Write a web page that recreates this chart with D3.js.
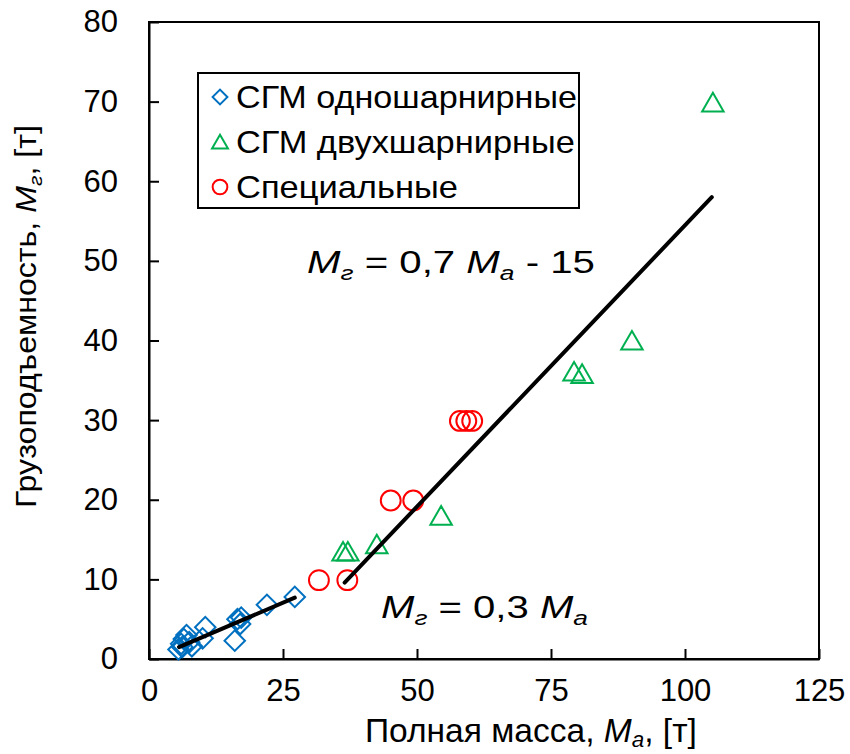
<!DOCTYPE html>
<html>
<head>
<meta charset="utf-8">
<script src="https://cdn.jsdelivr.net/npm/d3@7"></script>
<style>
  body { margin: 0; background: #fff; }
  svg text { font-family: "Liberation Sans", Arial, sans-serif; fill: #000; }
</style>
</head>
<body>
<div id="chart"></div>
<script>
// ---------- Data ----------
const singleHinge = [ // СГМ одношарнирные
  [5.5, 1.2], [6, 1.9], [6.5, 2.5], [7, 3], [7.5, 2.1], [8, 1.6], [6.2, 1.5],
  [10, 2.6], [10.5, 4], [16, 2.3], [16.5, 5], [17, 4.4], [17.2, 5.2],
  [22, 6.8], [27.2, 7.8]
];
const doubleHinge = [ // СГМ двухшарнирные
  [36.2, 13.4], [37.1, 13.4], [42.5, 14.3], [54.5, 17.9],
  [79.3, 36], [80.8, 35.7], [90.1, 39.9], [105.2, 69.8]
];
const special = [ // Специальные
  [31.7, 9.9], [37, 9.9], [45.1, 19.9], [49.3, 19.9],
  [58, 29.9], [59.2, 29.9], [60.3, 29.9]
];
const fitSmall = [[5.6, 1.5], [27.2, 7.7]];
const fitLarge = [[36.5, 9.6], [105, 58]];

const xTicks = [0, 25, 50, 75, 100, 125];
const yTicks = [0, 10, 20, 30, 40, 50, 60, 70, 80];
const legendItems = [
  { name: "СГМ одношарнирные", shape: "diamond", color: "#0070C0" },
  { name: "СГМ двухшарнирные", shape: "triangle", color: "#00B050" },
  { name: "Специальные", shape: "circle", color: "#FF0000" }
];

// ---------- Layout ----------
const width = 850, height = 754;
const margin = { top: 22, right: 31, bottom: 95, left: 149 };

const svg = d3.select("#chart").append("svg")
  .attr("width", width).attr("height", height);

const x = d3.scaleLinear().domain([0, 125]).range([margin.left, width - margin.right]);
const y = d3.scaleLinear().domain([0, 80]).range([height - margin.bottom, margin.top]);

// stretch a text horizontally so it covers the same width as in the picture
function fitWidth(g, target) {
  const w = g.select("text").node().getComputedTextLength();
  g.select("text").attr("transform", `scale(${target / w},1)`);
}

// frame
svg.append("rect")
  .attr("x", x(0)).attr("y", y(80))
  .attr("width", x(125) - x(0)).attr("height", y(0) - y(80))
  .attr("fill", "none").attr("stroke", "#000").attr("stroke-width", 2);

// axes (ticks inside)
const xAxis = svg.append("g")
  .attr("transform", `translate(0,${y(0)})`)
  .call(d3.axisBottom(x).tickValues(xTicks).tickSizeInner(-10).tickSizeOuter(0).tickPadding(20));
const yAxis = svg.append("g")
  .attr("transform", `translate(${x(0)},0)`)
  .call(d3.axisLeft(y).tickValues(yTicks).tickSizeInner(-10).tickSizeOuter(0).tickPadding(31));
[xAxis, yAxis].forEach(g => {
  g.select(".domain").attr("stroke-width", 2);
  g.selectAll(".tick line").attr("stroke-width", 2);
  g.selectAll(".tick text").style("font-size", "31px").attr("font-family", "Liberation Sans, Arial, sans-serif");
});

// axis titles
const xg = svg.append("g").attr("transform", "translate(365,742)");
const xt = xg.append("text").style("font-size", "33px");
xt.append("tspan").text("Полная масса, ");
xt.append("tspan").style("font-style", "italic").text("M");
xt.append("tspan").style("font-style", "italic").style("font-size", "22px").attr("dy", 5).text("a");
xt.append("tspan").attr("dy", -5).text(", [т]");
fitWidth(xg, 332);

const yg = svg.append("g").attr("transform", "translate(36,508) rotate(-90)");
const yt = yg.append("text").style("font-size", "29px");
yt.append("tspan").text("Грузоподъемность, ");
yt.append("tspan").style("font-style", "italic").text("M");
yt.append("tspan").style("font-style", "italic").style("font-size", "19px").attr("dy", 6).text("г");
yt.append("tspan").attr("dy", -6).text(", [т]");
fitWidth(yg, 383);

// ---------- Markers ----------
const sym = {
  diamond: d3.symbol().type(d3.symbolSquare).size(210),
  triangle: d3.symbol().type(d3.symbolTriangle).size(200),
  circle: d3.symbol().type(d3.symbolCircle).size(310)
};
function drawMarkers(data, item) {
  svg.append("g").selectAll("path")
    .data(data).join("path")
      .attr("d", sym[item.shape]())
      .attr("transform", d => `translate(${x(d[0])},${y(d[1])})` + (item.shape === "diamond" ? " rotate(45)" : "") + (item.shape === "triangle" ? " translate(0,2)" : ""))
      .attr("fill", "none")
      .attr("stroke", item.color)
      .attr("stroke-width", 2);
}
drawMarkers(singleHinge, legendItems[0]);
drawMarkers(doubleHinge, legendItems[1]);
drawMarkers(special, legendItems[2]);

// trend lines
const line = d3.line().x(d => x(d[0])).y(d => y(d[1]));
[fitSmall, fitLarge].forEach(f => {
  svg.append("path").attr("d", line(f))
    .attr("fill", "none").attr("stroke", "#000")
    .attr("stroke-width", 4).attr("stroke-linecap", "round");
});

// equations
function equation(px, py, w, parts) {
  const g = svg.append("g").attr("transform", `translate(${px},${py})`);
  const t = g.append("text").style("font-size", "32px");
  parts.forEach(p => {
    const s = t.append("tspan").text(p.t);
    if (p.i) s.style("font-style", "italic");
    if (p.sub) s.style("font-size", "21px").style("font-style", "italic").attr("dy", 7);
    if (p.up) s.attr("dy", -7);
  });
  fitWidth(g, w);
}
equation(307, 273, 288, [
  { t: "M", i: 1 }, { t: "г", sub: 1 }, { t: " = 0,7 ", up: 1 },
  { t: "M", i: 1 }, { t: "a", sub: 1 }, { t: " - 15", up: 1 }
]);
equation(381, 618, 207, [
  { t: "M", i: 1 }, { t: "г", sub: 1 }, { t: " = 0,3 ", up: 1 },
  { t: "M", i: 1 }, { t: "a", sub: 1 }
]);

// ---------- Legend ----------
const lg = svg.append("g");
lg.append("rect")
  .attr("x", 198).attr("y", 73).attr("width", 381).attr("height", 135)
  .attr("fill", "#fff").attr("stroke", "#000").attr("stroke-width", 2);
legendItems.forEach((it, i) => {
  const cy = 97 + i * 45;
  lg.append("path")
    .attr("d", d3.symbol().type(it.shape === "diamond" ? d3.symbolSquare : it.shape === "triangle" ? d3.symbolTriangle : d3.symbolCircle)
      .size(it.shape === "circle" ? 170 : 110)())
    .attr("transform", `translate(220,${cy})` + (it.shape === "diamond" ? " rotate(45)" : "") + (it.shape === "triangle" ? " translate(0,2)" : ""))
    .attr("fill", "none").attr("stroke", it.color).attr("stroke-width", 2);
  const tg = lg.append("g").attr("transform", `translate(236,${cy + 11})`);
  tg.append("text").style("font-size", "31px").text(it.name);
  fitWidth(tg, [341, 339, 222][i]);
});
</script>
</body>
</html>
